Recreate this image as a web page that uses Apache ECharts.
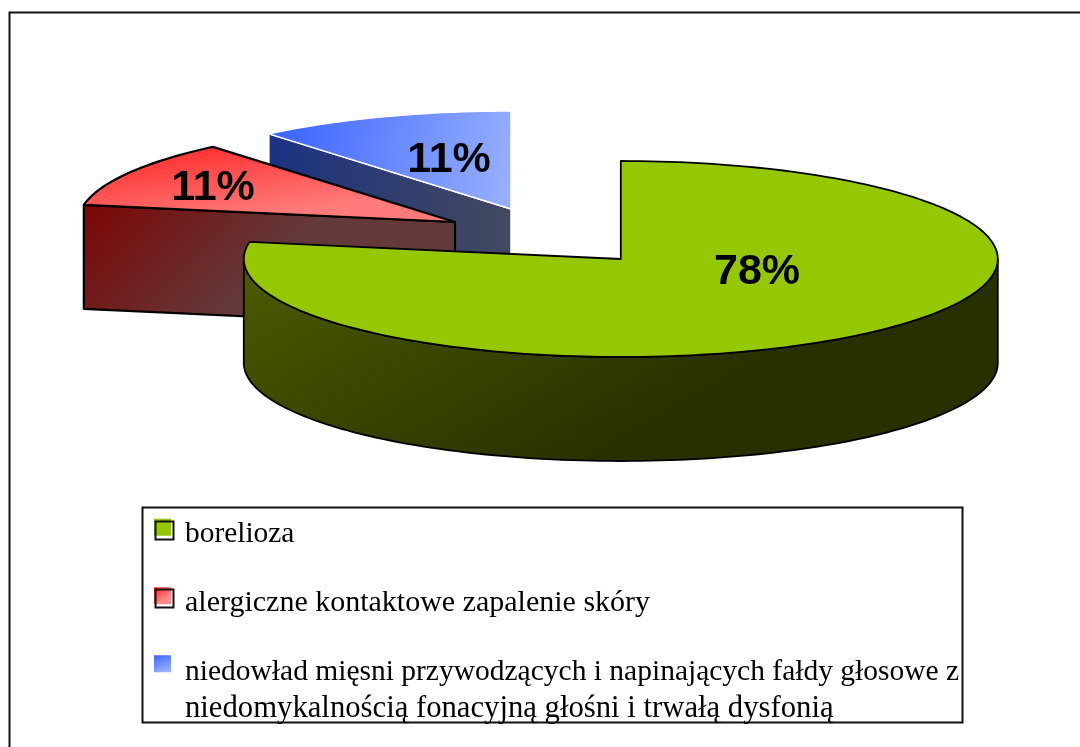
<!DOCTYPE html>
<html>
<head>
<meta charset="utf-8">
<title>Pie</title>
<style>
  html, body { margin: 0; padding: 0; background: #fff; }
  #chart { width: 1080px; height: 747px; }
</style>
<script src="https://cdn.jsdelivr.net/npm/echarts@6/dist/echarts.min.js"></script>
</head>
<body>
<div id="chart"></div>
<script>
const categories = [
  "borelioza",
  "alergiczne kontaktowe zapalenie skóry",
  "niedowład mięsni przywodzących i napinających fałdy głosowe z\nniedomykalnością fonacyjną głośni i trwałą dysfonią"
];
const sliceValues = [77.8, 11.1, 11.1];

// 3d look of the pie
const radiusX = 377, radiusY = 98, depth = 104;
const sliceCenters = [[620.8, 259], [455, 222], [511, 209]];
const labelCenters = [[757, 272], [213, 188], [449, 160]];
const legendTops = [516.5, 585, 654];
const legendFontSizes = [29.4, 30, 29.5];
const legendIconHeights = [32, 32, 70.5];

function grad(x, y, x2, y2, c0, c1) {
  return { type: "linear", x, y, x2, y2, colorStops: [{ offset: 0, color: c0 }, { offset: 1, color: c1 }] };
}

const sliceStyles = [{
  top: "#95c800",
  legend: "#95c800",
  rim: grad(0, 0, 0.235, 1.5, "#4b5c00", "#283000"),
  cut: "#2a3000",
  line: "#000",
  lineWidth: 1.8
}, {
  top: grad(0.3, 0, 0.33, 1, "#ff3030", "#ff7a7a"),
  legend: grad(0, 0, 0.6, 0.4, "#ff1f1f", "#ff8a8a"),
  rim: "#663737",
  cut: grad(0, 0, 0.35, 1, "#7d0505", "#63393a"),
  line: "#000",
  lineWidth: 2.2
}, {
  top: grad(0.05, 0.1, 1, 0.6, "#3c64ff", "#96afff"),
  legend: grad(0, 0, 0.4, 0.25, "#3c64ff", "#96afff"),
  rim: "#44495f",
  cut: grad(0, 0, 1, 0, "#1b3282", "#44495f"),
  line: "#fff",
  lineWidth: 1.5
}];

// angles are clockwise from 12 o'clock, the slices follow each other
const total = sliceValues.reduce((a, b) => a + b, 0);
function sliceAngles(index) {
  let before = 0;
  for (let i = 0; i < index; i++) before += sliceValues[i];
  return [before / total * 360, (before + sliceValues[index]) / total * 360];
}

function edgePoint(center, deg, drop) {
  let rad = deg * Math.PI / 180;
  return [center[0] + radiusX * Math.sin(rad), center[1] - radiusY * Math.cos(rad) + (drop || 0)];
}

function arc(center, from, to, drop) {
  let pts = [], steps = Math.max(2, Math.ceil(Math.abs(to - from) / 1.5));
  for (let i = 0; i <= steps; i++) pts.push(edgePoint(center, from + (to - from) * i / steps, drop));
  return pts;
}

function cutFace(center, deg, style) {
  let edge = edgePoint(center, deg);
  return {
    type: "polygon",
    shape: { points: [center, edge, [edge[0], edge[1] + depth], [center[0], center[1] + depth]] },
    style: { fill: style.cut, stroke: style.line, lineWidth: style.lineWidth, lineJoin: "round" }
  };
}

function renderSlice(index) {
  return function (params, api) {
    let value = api.value(0);
    let center = sliceCenters[index], style = sliceStyles[index];
    let angles = sliceAngles(index), children = [];

    // flat cut sides
    if (angles[0] > 180 && angles[0] < 360) children.push(cutFace(center, angles[0], style));
    if (angles[1] > 0 && angles[1] < 180) children.push(cutFace(center, angles[1], style));

    // outer wall, only the part turned to the viewer
    let rimFrom = Math.max(angles[0], 90), rimTo = Math.min(angles[1], 270);
    if (rimTo > rimFrom) {
      children.push({
        type: "polygon",
        shape: { points: arc(center, rimFrom, rimTo, 0).concat(arc(center, rimTo, rimFrom, depth)) },
        style: { fill: style.rim, stroke: style.line, lineWidth: style.lineWidth, lineJoin: "round" }
      });
    }

    children.push({
      type: "polygon",
      shape: { points: [center].concat(arc(center, angles[0], angles[1], 0)) },
      style: { fill: style.top, stroke: style.line, lineWidth: style.lineWidth, lineJoin: "round" }
    });

    children.push({
      type: "text",
      x: labelCenters[index][0],
      y: labelCenters[index][1],
      style: {
        text: Math.round(value / total * 100) + "%",
        fill: "#000",
        font: "bold 43px 'Liberation Sans'",
        align: "center",
        verticalAlign: "middle"
      }
    });

    return { type: "group", children };
  };
}

// back slices first, the big one sits in front
let series = [2, 1, 0].map(function (i) {
  return {
    type: "custom",
    name: categories[i],
    coordinateSystem: "none",
    silent: true,
    animation: false,
    itemStyle: { color: sliceStyles[i].legend },
    renderItem: renderSlice(i),
    data: [[sliceValues[i]]]
  };
});

// legend icons centre on the text, so the square sits in the top of a taller empty path
function iconPath(height) {
  return "path://M0 0H17V17H0Z M0 " + height + "L0 " + height + "L17 " + height + "Z";
}

let legend = categories.map(function (name, i) {
  return {
    left: 154,
    top: legendTops[i],
    orient: "vertical",
    padding: 0,
    selectedMode: false,
    icon: iconPath(legendIconHeights[i]),
    itemWidth: 17,
    itemHeight: legendIconHeights[i],
    // second line of the long name runs a little wider in the picture
    formatter: name.replace(/\n(.*)$/, "\n{wide|$1}"),
    textStyle: {
      fontFamily: "Liberation Serif",
      fontSize: legendFontSizes[i],
      lineHeight: 36.5,
      color: "#000",
      padding: [0, 0, 0, 9],
      rich: { wide: { fontFamily: "Liberation Serif", fontSize: 30.7, lineHeight: 36.5, color: "#000" } }
    },
    data: [name]
  };
});

function outlineBox(x, y, w, h, lineWidth) {
  return {
    type: "rect",
    silent: true,
    shape: { x, y, width: w, height: h },
    style: { fill: "none", stroke: "#111", lineWidth },
    z: 100
  };
}

let chart = echarts.init(document.getElementById("chart"));
chart.setOption({
  backgroundColor: "#fff",
  animation: false,
  legend,
  series,
  graphic: [
    // chart frame runs off the right and bottom of the picture
    outlineBox(9.5, 12.5, 1200, 900, 2),
    outlineBox(142.5, 507.5, 820, 215, 2),
    outlineBox(155.5, 521.5, 18, 18, 2),
    outlineBox(155.5, 589.5, 18, 18, 2)
  ]
});
</script>
</body>
</html>
